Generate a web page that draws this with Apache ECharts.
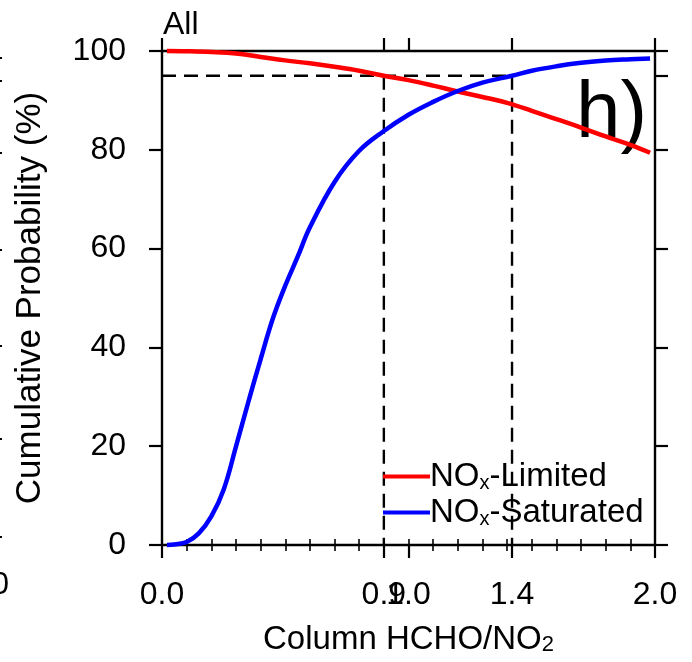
<!DOCTYPE html>
<html>
<head>
<meta charset="utf-8">
<script src="https://cdn.jsdelivr.net/npm/echarts@6/dist/echarts.min.js"></script>
<style>
html,body{margin:0;padding:0;background:#fff;}
#chart{width:692px;height:662px;}
</style>
</head>
<body>
<div id="chart"></div>
<script>
// ---- data ----
const limitedX = [0.02, 0.1, 0.2, 0.3, 0.4, 0.5, 0.6, 0.7, 0.8, 0.9, 1.0, 1.1, 1.2, 1.3, 1.4, 1.5, 1.6, 1.7, 1.8, 1.9, 1.98];
const limitedY = [100, 99.95, 99.8, 99.5, 98.8, 98.1, 97.5, 96.8, 96.0, 95.0, 94.1, 93.0, 91.8, 90.7, 89.5, 87.9, 86.2, 84.5, 82.7, 81.0, 79.4];
const saturatedX = [0.02, 0.05, 0.1, 0.15, 0.2, 0.25, 0.3, 0.35, 0.4, 0.45, 0.5, 0.55, 0.6, 0.7, 0.8, 0.9, 1.0, 1.1, 1.2, 1.3, 1.42, 1.5, 1.6, 1.7, 1.8, 1.9, 1.98];
const saturatedY = [0, 0.1, 0.6, 2.4, 5.8, 11.2, 19.9, 28.9, 37.6, 45.9, 52.5, 58.3, 64.3, 73.5, 79.8, 83.8, 87.1, 89.7, 91.9, 93.6, 95.0, 96.0, 96.9, 97.6, 98.1, 98.35, 98.5];
const limitedThreshold = 0.9;
const saturatedThreshold = 1.42;
const probabilityLevel = 95;
const xTickValues = [0, 0.9, 1.0, 1.42, 2.0];
const xMinorTickStep = 0.1;
const yTickValues = [0, 20, 40, 60, 80, 95, 100];
const seriesNames = ['NOx-Limited', 'NOx-Saturated'];
const panelTitle = 'All';
const panelLetter = 'h)';
const xTitle = 'Column HCHO/NO{sub|2}';
const yTitle = 'Cumulative Probability (%)';
// fragments of the neighbouring panel cut by the left edge
const edgeTickY = [58, 81, 153, 250, 346, 439, 537];
const edgeLabel = '0';

const FONT = 'Liberation Sans, Arial, Helvetica, sans-serif';
const pairs = (xs, ys) => xs.map((x, i) => [x, ys[i]]);

const grid = {left: 162, top: 51, width: 493, height: 494};

const majorTick = {show: true, length: 13, inside: false, lineStyle: {color: '#000', width: 2.2}};
const minorTick = {show: true, length: 6, inside: false, lineStyle: {color: '#000', width: 1.6}};
const axisLineStyle = {color: '#000', width: 2.4};

const dashStyle = () => ({color: '#000', width: 2.4, type: [14, 8]});

const graphics = [
  {type: 'text', left: 163, top: 9, style: {text: panelTitle, font: '32px ' + FONT, fill: '#000'}},
  {type: 'text', left: 576, top: 75, style: {text: panelLetter, font: '80px ' + FONT, fill: '#000'}},
  {type: 'text', x: 9, y: 570, style: {text: edgeLabel, font: '31px ' + FONT, fill: '#000', align: 'right', verticalAlign: 'top'}}
].concat(edgeTickY.map(y => ({type: 'rect', shape: {x: 0, y: y - 1, width: 2, height: 2}, style: {fill: '#000'}})));

const chart = echarts.init(document.getElementById('chart'), null, {renderer: 'canvas'});
chart.setOption({
  animation: false,
  backgroundColor: '#fff',
  grid: [grid],
  xAxis: [
    {
      type: 'value', position: 'bottom', min: 0, max: 2,
      axisLine: {show: true, onZero: false, lineStyle: axisLineStyle},
      axisTick: Object.assign({customValues: xTickValues}, majorTick),
      axisLabel: {show: true, customValues: xTickValues, formatter: v => v.toFixed(1),
        showMinLabel: true, showMaxLabel: true, hideOverlap: false,
        fontSize: 32, fontFamily: FONT, color: '#000', margin: 34},
      splitLine: {show: false},
      name: xTitle, nameLocation: 'middle', nameGap: 78,
      nameTextStyle: {fontSize: 33, fontFamily: FONT, color: '#000', lineHeight: 33,
        rich: {sub: {fontSize: 22, fontFamily: FONT, color: '#000', lineHeight: 6, verticalAlign: 'bottom'}}}
    },
    {
      type: 'value', position: 'bottom', min: 0, max: 2, interval: xMinorTickStep,
      axisLine: {show: false}, axisTick: minorTick, axisLabel: {show: false}, splitLine: {show: false}
    },
    {
      type: 'value', position: 'top', min: 0, max: 2,
      axisLine: {show: true, onZero: false, lineStyle: axisLineStyle},
      axisTick: Object.assign({customValues: xTickValues}, majorTick),
      axisLabel: {show: false}, splitLine: {show: false}
    },
    {
      type: 'value', position: 'top', min: 0, max: 2, interval: xMinorTickStep,
      axisLine: {show: false}, axisTick: minorTick, axisLabel: {show: false}, splitLine: {show: false}
    }
  ],
  yAxis: [
    {
      type: 'value', position: 'left', min: 0, max: 100,
      axisLine: {show: true, onZero: false, lineStyle: axisLineStyle},
      axisTick: Object.assign({customValues: yTickValues}, majorTick),
      axisLabel: {show: true, customValues: yTickValues, showMinLabel: true, showMaxLabel: true, hideOverlap: false,
        fontSize: 32, fontFamily: FONT, color: '#000', margin: 36},
      splitLine: {show: false},
      name: yTitle, nameLocation: 'middle', nameGap: 114, nameRotate: 90,
      nameTextStyle: {fontSize: 35, fontFamily: FONT, color: '#000'}
    },
    {
      type: 'value', position: 'right', min: 0, max: 100,
      axisLine: {show: true, onZero: false, lineStyle: axisLineStyle},
      axisTick: Object.assign({customValues: yTickValues}, majorTick),
      axisLabel: {show: false}, splitLine: {show: false}
    }
  ],
  legend: {
    orient: 'vertical', left: 383, top: 460, padding: 0,
    itemWidth: 47, itemHeight: 4, itemGap: 3,
    icon: 'rect',
    data: seriesNames,
    formatter: name => name.replace('NOx', 'NO{sub|x}'),
    textStyle: {fontSize: 33, fontFamily: FONT, color: '#000', lineHeight: 33, padding: [0, 0, 0, -5],
      rich: {sub: {fontSize: 20, fontFamily: FONT, color: '#000', lineHeight: 2, verticalAlign: 'bottom'}}}
  },
  graphic: graphics,
  series: [
    {type: 'line', name: 'dash95', xAxisIndex: 0, yAxisIndex: 0, symbol: 'none', silent: true,
      lineStyle: dashStyle(), data: [[0, probabilityLevel], [saturatedThreshold, probabilityLevel]], z: 1},
    {type: 'line', name: 'dashL', xAxisIndex: 0, yAxisIndex: 0, symbol: 'none', silent: true,
      lineStyle: dashStyle(), data: [[limitedThreshold, probabilityLevel], [limitedThreshold, 0]], z: 1},
    {type: 'line', name: 'dashS', xAxisIndex: 0, yAxisIndex: 0, symbol: 'none', silent: true,
      lineStyle: dashStyle(), data: [[saturatedThreshold, probabilityLevel], [saturatedThreshold, 0]], z: 1},
    {type: 'line', name: seriesNames[0], xAxisIndex: 0, yAxisIndex: 0, symbol: 'none', smooth: 0.4,
      clip: false,
      itemStyle: {color: '#ff0000'}, lineStyle: {color: '#ff0000', width: 4.5},
      data: pairs(limitedX, limitedY), z: 3},
    {type: 'line', name: seriesNames[1], xAxisIndex: 0, yAxisIndex: 0, symbol: 'none', smooth: 0.4,
      clip: false,
      itemStyle: {color: '#0000ff'}, lineStyle: {color: '#0000ff', width: 4.5},
      data: pairs(saturatedX, saturatedY), z: 3}
  ]
});
</script>
</body>
</html>
